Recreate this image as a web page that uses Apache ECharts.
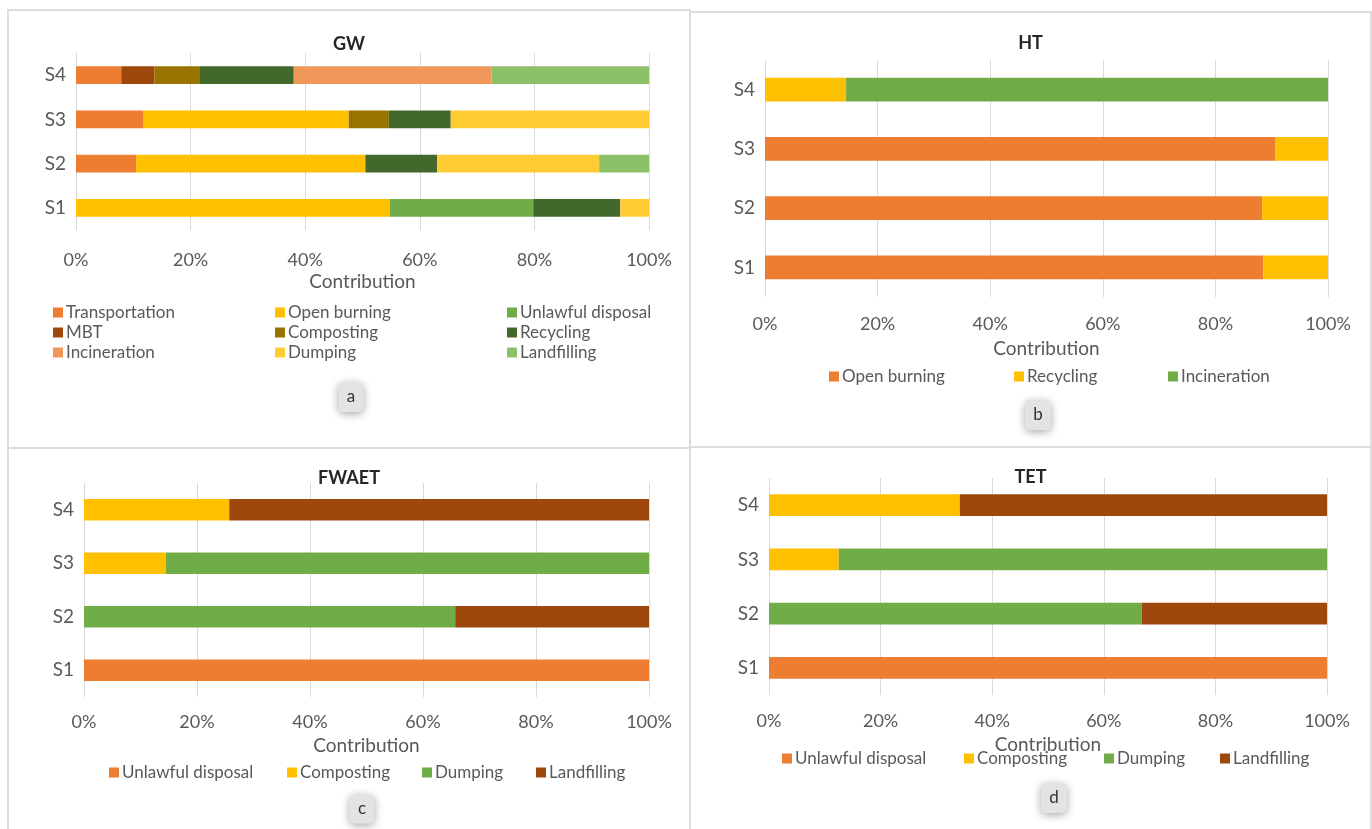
<!DOCTYPE html>
<html>
<head>
<meta charset="utf-8">
<script src="https://cdn.jsdelivr.net/npm/echarts@6/dist/echarts.min.js"></script>
<style>
  html, body { margin: 0; padding: 0; background: #fff; }
  body { width: 1372px; height: 829px; position: relative; overflow: hidden; }
  .panel { position: absolute; outline: 2px solid #dcdcdc; }
</style>
</head>
<body>
<div id="pa" class="panel" style="left:9px;top:11px;width:680px;height:436px;"></div>
<div id="pb" class="panel" style="left:691px;top:13px;width:679px;height:433px;"></div>
<div id="pc" class="panel" style="left:9px;top:449px;width:680px;height:380px;"></div>
<div id="pd" class="panel" style="left:691px;top:448px;width:679px;height:381px;"></div>
<script>
'use strict';

var FONT = 'Lato, "Open Sans", sans-serif';
var cats = ['S1', 'S2', 'S3', 'S4'];
var xTicks = [0, 20, 40, 60, 80, 100];

// GW (a) - share in %, order S1..S4
var gwTransportation = [0, 10.5, 11.8, 7.9];
var gwOpenBurning = [54.8, 40.0, 35.8, 0];
var gwUnlawful = [25.0, 0, 0, 0];
var gwMBT = [0, 0, 0, 5.8];
var gwComposting = [0, 0, 7.0, 7.8];
var gwRecycling = [15.2, 12.5, 10.8, 16.5];
var gwIncineration = [0, 0, 0, 34.5];
var gwDumping = [5.0, 28.3, 34.6, 0];
var gwLandfilling = [0, 8.7, 0, 27.5];

// HT (b)
var htOpenBurning = [88.5, 88.3, 90.6, 0];
var htRecycling = [11.5, 11.7, 9.4, 14.4];
var htIncineration = [0, 0, 0, 85.6];

// FWAET (c)
var fwUnlawful = [100, 0, 0, 0];
var fwComposting = [0, 0, 14.5, 25.7];
var fwDumping = [0, 65.7, 85.5, 0];
var fwLandfilling = [0, 34.3, 0, 74.3];

// TET (d)
var tetUnlawful = [100, 0, 0, 0];
var tetComposting = [0, 0, 12.5, 34.2];
var tetDumping = [0, 66.8, 87.5, 0];
var tetLandfilling = [0, 33.2, 0, 65.8];

function labelBox(letter, cx, cy, w, h) {
    return {
        type: 'rect',
        left: cx - w / 2,
        top: cy - h / 2,
        shape: { width: w, height: h, r: 5 },
        style: {
            fill: '#e3e3e3',
            shadowBlur: 8,
            shadowOffsetY: 2,
            shadowColor: 'rgba(0,0,0,0.35)'
        },
        textContent: {
            style: { text: letter, fontFamily: FONT, fontSize: 17, fill: '#333' }
        },
        textConfig: { position: 'inside' }
    };
}

function buildPanel(id, p) {
    var chart = echarts.init(document.getElementById(id));
    var legends = p.legends.map(function (l) {
        return {
            data: l.names,
            orient: 'vertical',
            left: l.left,
            top: l.top,
            padding: 0,
            itemGap: 3,
            itemWidth: 10,
            itemHeight: 10,
            icon: 'rect',
            selectedMode: false,
            textStyle: { fontFamily: FONT, fontSize: 17, color: '#595959', padding: [0, 0, 0, -2] }
        };
    });
    chart.setOption({
        animation: false,
        textStyle: { fontFamily: FONT },
        title: {
            text: p.title,
            left: 'center',
            top: p.titleTop,
            textStyle: { fontFamily: FONT, fontSize: 18, fontWeight: 'bold', color: '#262626' }
        },
        legend: legends,
        grid: p.grid,
        xAxis: {
            type: 'value',
            min: xTicks[0],
            max: xTicks[xTicks.length - 1],
            interval: xTicks[1] - xTicks[0],
            axisLine: { show: false },
            axisTick: { show: false },
            axisLabel: { formatter: '{value}%', fontSize: 18, color: '#595959', margin: p.labelMargin },
            splitLine: { lineStyle: { color: '#d9d9d9', width: 1 } },
            name: 'Contribution',
            nameLocation: 'middle',
            nameGap: p.nameGap,
            nameTextStyle: { fontSize: 19, color: '#595959' }
        },
        yAxis: {
            type: 'category',
            data: cats,
            axisLine: { show: false },
            axisTick: { show: false },
            axisLabel: { fontSize: 19, color: '#595959', margin: 10 }
        },
        series: p.series.map(function (s) {
            return {
                type: 'bar',
                name: s.name,
                stack: 'total',
                data: s.data,
                barWidth: '40%',
                itemStyle: { color: s.color }
            };
        }),
        graphic: [p.box]
    });
}

// a - GW
buildPanel('pa', {
    title: 'GW',
    titleTop: 19,
    grid: { left: 67, right: 40, top: 42, bottom: 217 },
    labelMargin: 21,
    nameGap: 42,
    legends: [
        { names: ['Transportation', 'MBT', 'Incineration'], left: 44, top: 293 },
        { names: ['Open burning', 'Composting', 'Dumping'], left: 266, top: 293 },
        { names: ['Unlawful disposal', 'Recycling', 'Landfilling'], left: 498, top: 293 }
    ],
    series: [
        { name: 'Transportation', data: gwTransportation, color: '#ED7D31' },
        { name: 'Open burning', data: gwOpenBurning, color: '#FFC000' },
        { name: 'Unlawful disposal', data: gwUnlawful, color: '#70AD47' },
        { name: 'MBT', data: gwMBT, color: '#9E480E' },
        { name: 'Composting', data: gwComposting, color: '#997300' },
        { name: 'Recycling', data: gwRecycling, color: '#43682B' },
        { name: 'Incineration', data: gwIncineration, color: '#F1975A' },
        { name: 'Dumping', data: gwDumping, color: '#FFCD33' },
        { name: 'Landfilling', data: gwLandfilling, color: '#8CC168' }
    ],
    box: labelBox('a', 342, 386, 25, 30)
});

// b - HT
buildPanel('pb', {
    title: 'HT',
    titleTop: 16,
    grid: { left: 74, right: 42, top: 47, bottom: 149 },
    labelMargin: 18,
    nameGap: 42,
    legends: [
        { names: ['Open burning'], left: 138, top: 355 },
        { names: ['Recycling'], left: 323, top: 355 },
        { names: ['Incineration'], left: 477, top: 355 }
    ],
    series: [
        { name: 'Open burning', data: htOpenBurning, color: '#ED7D31' },
        { name: 'Recycling', data: htRecycling, color: '#FFC000' },
        { name: 'Incineration', data: htIncineration, color: '#70AD47' }
    ],
    box: labelBox('b', 347, 402, 26, 30)
});

// c - FWAET
buildPanel('pc', {
    title: 'FWAET',
    titleTop: 15,
    grid: { left: 75, right: 40, top: 34, bottom: 132 },
    labelMargin: 16,
    nameGap: 37,
    legends: [
        { names: ['Unlawful disposal'], left: 100, top: 315 },
        { names: ['Composting'], left: 278, top: 315 },
        { names: ['Dumping'], left: 413, top: 315 },
        { names: ['Landfilling'], left: 527, top: 315 }
    ],
    series: [
        { name: 'Unlawful disposal', data: fwUnlawful, color: '#ED7D31' },
        { name: 'Composting', data: fwComposting, color: '#FFC000' },
        { name: 'Dumping', data: fwDumping, color: '#70AD47' },
        { name: 'Landfilling', data: fwLandfilling, color: '#9E480E' }
    ],
    box: labelBox('c', 353, 360, 25, 29)
});

// d - TET
buildPanel('pd', {
    title: 'TET',
    titleTop: 15,
    grid: { left: 78, right: 43, top: 30, bottom: 134 },
    labelMargin: 17,
    nameGap: 36,
    legends: [
        { names: ['Unlawful disposal'], left: 91, top: 302 },
        { names: ['Composting'], left: 273, top: 302 },
        { names: ['Dumping'], left: 413, top: 302 },
        { names: ['Landfilling'], left: 529, top: 302 }
    ],
    series: [
        { name: 'Unlawful disposal', data: tetUnlawful, color: '#ED7D31' },
        { name: 'Composting', data: tetComposting, color: '#FFC000' },
        { name: 'Dumping', data: tetDumping, color: '#70AD47' },
        { name: 'Landfilling', data: tetLandfilling, color: '#9E480E' }
    ],
    box: labelBox('d', 363, 350, 26, 30)
});
</script>
</body>
</html>
